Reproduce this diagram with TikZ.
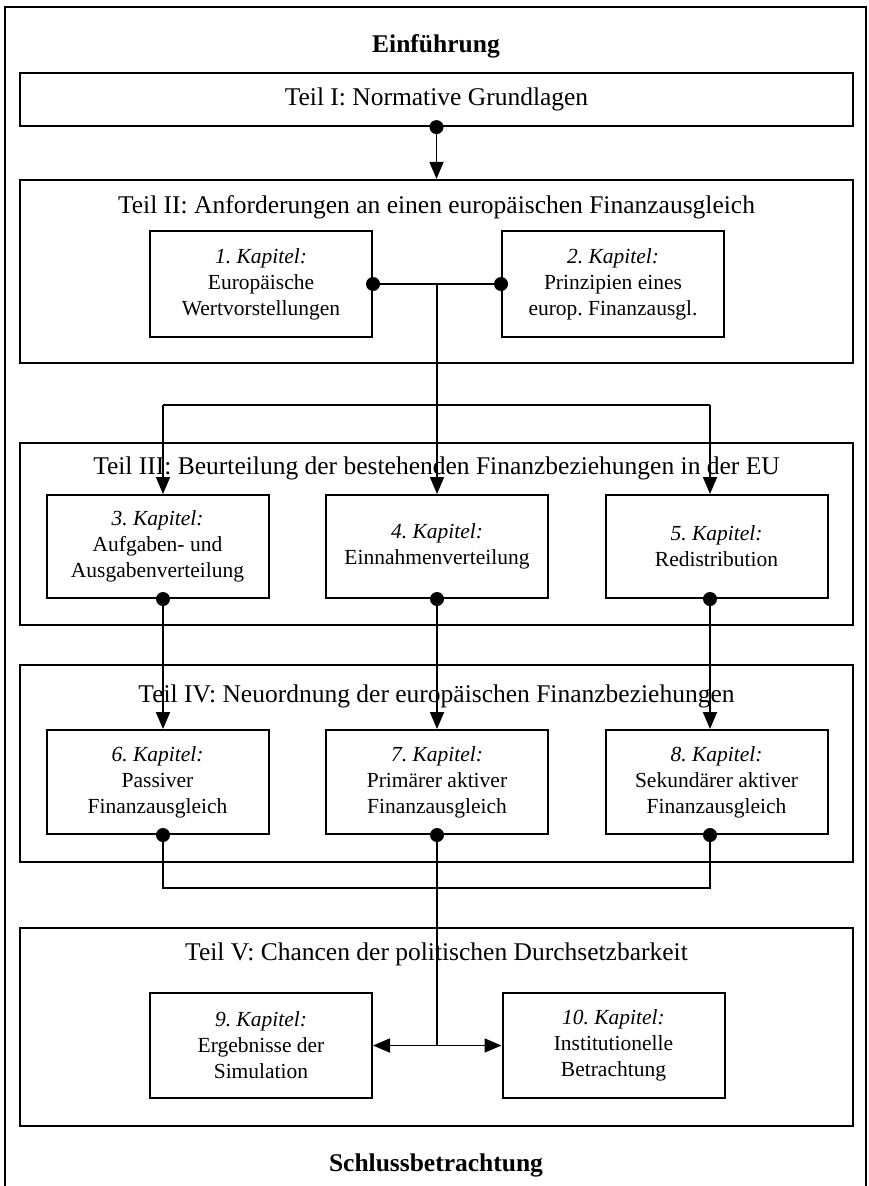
\documentclass[tikz,border=0pt]{standalone}
\usepackage{fontspec}
\setmainfont{Liberation Serif}
\usetikzlibrary{arrows.meta}
\frenchspacing
\newcommand\kapfont{\fontsize{21.5}{26}\selectfont}
\newcommand\teilfont{\fontsize{25.5}{30}\selectfont}
\begin{document}
\begin{tikzpicture}[x=1pt,y=-1pt,
  teil/.style={draw, line width=2.2pt, minimum width=833pt, inner sep=0pt},
  ttl/.style={font=\teilfont, inner sep=0pt},
  kap/.style={draw, line width=2pt, minimum width=222pt, align=center, font=\kapfont, inner sep=0pt},
  conn/.style={line width=1.8pt},
  arr/.style={line width=1.8pt, -{Triangle[length=17pt,width=14pt]}},
  dotn/.style={circle, fill, inner sep=0pt, minimum size=14pt},
]
\useasboundingbox (0,0) rectangle (868,1186);
% outer frame
\draw[line width=1.5pt] (5,1186) -- (5,7) -- (866,7) -- (866,1186);

\node[ttl, font=\teilfont\bfseries] (einf) at (436,46) {Einführung};
\node[ttl, font=\teilfont\bfseries] (schluss) at (436,1165) {Schlussbetrachtung};

% Teil boxes
\node[teil, minimum height=53pt, font=\teilfont] (t1) at (436.5,99.5) {Teil I: Normative Grundlagen};
\node[teil, minimum height=183pt] (t2) at (436.5,271.5) {};
\node[teil, minimum height=182pt] (t3) at (436.5,534) {};
\node[teil, minimum height=197pt] (t4) at (436.5,763.5) {};
\node[teil, minimum height=198pt] (t5) at (436.5,1027) {};

\node[ttl] (t2t) at (436.5,207) {Teil II: Anforderungen an einen europäischen Finanzausgleich};
\node[ttl] (t3t) at (436.5,468) {Teil III: Beurteilung der bestehenden Finanzbeziehungen in der EU};
\node[ttl] (t4t) at (436.5,696) {Teil IV: Neuordnung der europäischen Finanzbeziehungen};
\node[ttl] (t5t) at (436.5,954) {Teil V: Chancen der politischen Durchsetzbarkeit};

% chapters
\node[kap, minimum height=106pt] (k1) at (261,284) {\textit{1. Kapitel:}\\Europäische\\Wertvorstellungen};
\node[kap, minimum height=106pt] (k2) at (613,284) {\textit{2. Kapitel:}\\Prinzipien eines\\europ. Finanzausgl.};

\node[kap, minimum height=103pt] (k3) at (157.5,546.5) {\textit{3. Kapitel:}\\Aufgaben- und\\Ausgabenverteilung};
\node[kap, minimum height=103pt] (k4) at (437,546.5) {\textit{4. Kapitel:}\\Einnahmenverteilung};
\node[kap, minimum height=103pt] (k5) at (716.5,546.5) {\textit{5. Kapitel:}\\Redistribution};

\node[kap, minimum height=104pt] (k6) at (157.5,782) {\textit{6. Kapitel:}\\Passiver\\Finanzausgleich};
\node[kap, minimum height=104pt] (k7) at (437,782) {\textit{7. Kapitel:}\\Primärer aktiver\\Finanzausgleich};
\node[kap, minimum height=104pt] (k8) at (716.5,782) {\textit{8. Kapitel:}\\Sekundärer aktiver\\Finanzausgleich};

\node[kap, minimum height=105pt] (k9) at (261,1045.5) {\textit{9. Kapitel:}\\Ergebnisse der\\Simulation};
\node[kap, minimum height=105pt] (k10) at (613.5,1045.5) {\textit{10. Kapitel:}\\Institutionelle\\Betrachtung};

% junction coordinates
\coordinate (a1) at (437,284);
\coordinate (b0) at (437,405);
\coordinate (bL) at (163,405);
\coordinate (bR) at (710,405);
\coordinate (cL) at (163,888);
\coordinate (cR) at (710,888);
\coordinate (c0) at (437,1045.5);

% Teil I -> Teil II
\draw[arr] (t1.south) -- (t2.north);
\node[dotn] at (t1.south) {};

% Kapitel 1/2 -> 3/4/5
\draw[conn] (k1.east) -- (k2.west);
\node[dotn] at (k1.east) {};
\node[dotn] at (k2.west) {};
\draw[conn] (a1) -- (b0);
\draw[conn] (bL) -- (bR);
\draw[arr] (bL) -- (bL |- k3.north);
\draw[arr] (b0) -- (k4.north);
\draw[arr] (bR) -- (bR |- k5.north);

% 3/4/5 -> 6/7/8
\draw[arr] (bL |- k3.south) -- (bL |- k6.north);
\draw[arr] (k4.south) -- (k7.north);
\draw[arr] (bR |- k5.south) -- (bR |- k8.north);
\node[dotn] at (bL |- k3.south) {};
\node[dotn] at (k4.south) {};
\node[dotn] at (bR |- k5.south) {};

% 6/7/8 -> 9/10
\draw[conn] (bL |- k6.south) -- (cL) -- (cR) -- (bR |- k8.south);
\draw[conn] (k7.south) -- (c0);
\draw[arr] (c0) -- (k9.east);
\draw[arr] (c0) -- (k10.west);
\node[dotn] at (bL |- k6.south) {};
\node[dotn] at (k7.south) {};
\node[dotn] at (bR |- k8.south) {};
\end{tikzpicture}
\end{document}
